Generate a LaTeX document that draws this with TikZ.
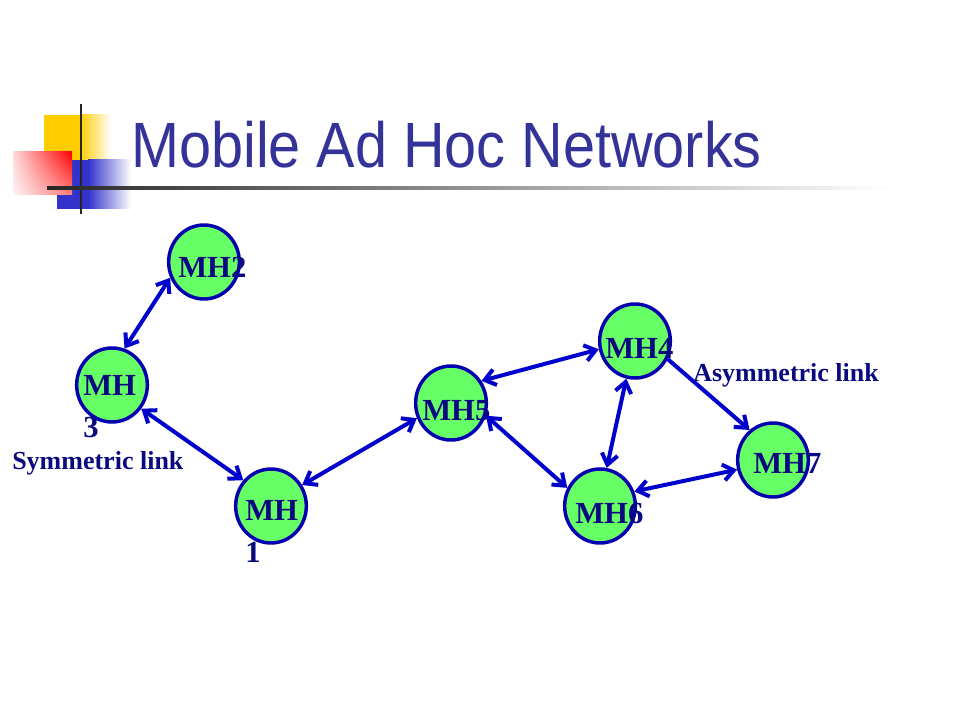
\documentclass[tikz,border=0pt]{standalone}
\usepackage{fontspec}
\setmainfont{Liberation Serif}
\newfontfamily\titlefont{Liberation Sans}
\usetikzlibrary{arrows.meta,shapes.geometric,shadings}
\definecolor{hostgreen}{HTML}{66FF66}
\definecolor{hostborder}{HTML}{0000B0}
\definecolor{linkblue}{HTML}{0000CC}
\definecolor{labelnavy}{HTML}{0A0A80}
\definecolor{titleblue}{HTML}{333399}
\definecolor{logoyellow}{HTML}{FFCC00}
\definecolor{logoblue}{HTML}{3333CC}

\begin{document}
\begin{tikzpicture}[x=0.75pt,y=-0.75pt,
	host/.style={ellipse,draw=hostborder,fill=hostgreen,line width=2.6pt,minimum width=53pt,minimum height=55.5pt,inner sep=0},
	hostlabel/.style={inner sep=0,text=labelnavy,font=\fontsize{23}{31.5}\selectfont\bfseries,align=left},
	linklabel/.style={inner sep=0,text=labelnavy,font=\fontsize{19.5}{22}\selectfont\bfseries,anchor=west},
	link/.style={draw=linkblue,line width=3pt,{Straight Barb[length=8pt,width=12pt]}-{Straight Barb[length=8pt,width=12pt]}},
	oneway/.style={draw=linkblue,line width=3pt,-{Straight Barb[length=8pt,width=12pt]}}]
	\useasboundingbox (0,0) rectangle (960,720);
	% logo
	\fill[logoyellow] (44,115) rectangle (80,160);
	\shade[left color=logoyellow,right color=white] (80,115) rectangle (111,160);
	\fill[logoblue] (57,160) rectangle (88,209);
	\shade[left color=logoblue,right color=white] (88,160) rectangle (131,209);
	\shade[upper right=red,upper left=red!15,lower right=red!50,lower left=red!5] (13,152) rectangle (72,195);
	\draw[black!85,line width=1.6pt] (81,104) -- (81,214);
	\shade[left color=black!85,middle color=black!55,right color=white] (47,186.5) rectangle (890,189.5);
	% title
	\node[anchor=base west,inner sep=0,text=titleblue,font=\titlefont\fontsize{48}{52}\selectfont,xscale=0.9] (title) at (131,168) {Mobile Ad Hoc Networks};
	% hosts
	\node[host] (mh2) at (204,262) {};
	\node[host] (mh3) at (112,385) {};
	\node[host] (mh1) at (271,506) {};
	\node[host] (mh5) at (451,403) {};
	\node[host] (mh4) at (635,341) {};
	\node[host] (mh7) at (773,460) {};
	\node[host] (mh6) at (600,506) {};
	\node[hostlabel,anchor=west] (lbl2) at (178,267) {MH2};
	\node[hostlabel,anchor=north west] (lbl3) at (83,375) {MH\\3};
	\node[hostlabel,anchor=north west] (lbl1) at (245,500) {MH\\1};
	\node[hostlabel,anchor=west] (lbl5) at (422,411) {MH5};
	\node[hostlabel,anchor=west] (lbl4) at (605,348) {MH4};
	\node[hostlabel,anchor=west] (lbl7) at (753,463) {MH7};
	\node[hostlabel,anchor=west] (lbl6) at (575,513) {MH6};
	% links
	\draw[link] (mh2.205) -- (mh3.71);
	\draw[link] (mh3.321) -- (mh1.137);
	\draw[link] (mh1.34) -- (mh5.204);
	\draw[link] (mh5.36) -- (mh4.193);
	\draw[link] (mh5.340) -- (mh6.151);
	\draw[link] (mh4.257) -- (mh6.80);
	\draw[oneway] (mh4.331) -- (mh7.128);
	\draw[link] (mh7.195) -- (mh6.23);
	\node[linklabel] (sym) at (12,463) {Symmetric link};
	\node[linklabel] (asym) at (693,375) {Asymmetric link};
\end{tikzpicture}
\end{document}
